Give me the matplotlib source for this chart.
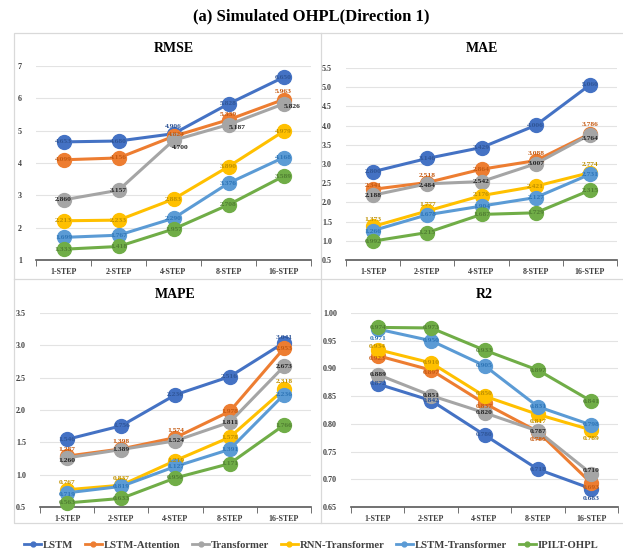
import matplotlib
matplotlib.use("Agg")
import matplotlib.pyplot as plt
from matplotlib.lines import Line2D
from matplotlib.patches import Rectangle

W, H = 623, 554
plt.rcParams['font.family'] = ['Liberation Serif', 'DejaVu Serif']

steps = ["1-STEP", "2-STEP", "4-STEP", "8-STEP", "16-STEP"]
models = ["LSTM", "LSTM-Attention", "Transformer", "RNN-Transformer", "LSTM-Transformer", "IPILT-OHPL"]
colors = ["#4472C4", "#ED7D31", "#A5A5A5", "#FFC000", "#5B9BD5", "#70AD47"]
label_colors = ["#2F5597", "#C55A11", "#262626", "#BF9000", "#2E75B6", "#507E32"]

rmse_lstm = [4.653, 4.680, 4.906, 5.828, 6.650]
rmse_att = [4.099, 4.156, 4.824, 5.339, 5.963]
rmse_trans = [2.860, 3.157, 4.700, 5.187, 5.826]
rmse_rnn = [2.213, 2.233, 2.883, 3.890, 4.979]
rmse_lstmt = [1.699, 1.767, 2.290, 3.376, 4.168]
rmse_ipilt = [1.333, 1.418, 1.957, 2.708, 3.589]

mae_lstm = [2.800, 3.146, 3.429, 4.006, 5.060]
mae_att = [2.341, 2.518, 2.864, 3.088, 3.786]
mae_trans = [2.188, 2.484, 2.542, 3.007, 3.764]
mae_rnn = [1.373, 1.777, 2.176, 2.421, 2.774]
mae_lstmt = [1.266, 1.678, 1.904, 2.127, 2.731]
mae_ipilt = [0.992, 1.215, 1.687, 1.729, 2.315]

mape_lstm = [1.546, 1.756, 2.236, 2.516, 3.041]
mape_att = [1.287, 1.398, 1.574, 1.978, 2.953]
mape_trans = [1.260, 1.389, 1.524, 1.811, 2.673]
mape_rnn = [0.767, 0.837, 1.219, 1.578, 2.318]
mape_lstmt = [0.719, 0.819, 1.127, 1.391, 2.236]
mape_ipilt = [0.563, 0.633, 0.950, 1.171, 1.766]

r2_lstm = [0.872, 0.842, 0.780, 0.718, 0.683]
r2_att = [0.923, 0.897, 0.837, 0.786, 0.693]
r2_trans = [0.889, 0.851, 0.820, 0.787, 0.710]
r2_rnn = [0.934, 0.910, 0.850, 0.817, 0.789]
r2_lstmt = [0.971, 0.950, 0.905, 0.831, 0.798]
r2_ipilt = [0.974, 0.973, 0.933, 0.897, 0.841]

# label offsets in points: (panel, series index, step index) -> (dx, dy)
label_offsets = {
    ("RMSE", 0, 2): (0, 5), ("RMSE", 1, 2): (2, 1), ("RMSE", 2, 2): (5, -5),
    ("RMSE", 1, 3): (0, 4), ("RMSE", 2, 3): (6, -2),
    ("RMSE", 1, 4): (0, 6), ("RMSE", 2, 4): (6, -2),
    ("MAE", 1, 0): (0, 3), ("MAE", 1, 1): (0, 5), ("MAE", 1, 3): (0, 5), ("MAE", 1, 4): (0, 7),
    ("MAE", 2, 1): (0, -1), ("MAE", 3, 0): (0, 5), ("MAE", 3, 1): (0, 5), ("MAE", 3, 4): (0, 6),
    ("MAE", 3, 2): (0, 1), ("MAE", 4, 0): (0, -1), ("MAE", 2, 4): (0, -3),
    ("MAPE", 0, 4): (0, 4), ("MAPE", 1, 0): (0, 5), ("MAPE", 1, 1): (0, 5), ("MAPE", 1, 2): (0, 5),
    ("MAPE", 2, 0): (0, -2), ("MAPE", 3, 0): (0, 5), ("MAPE", 3, 1): (0, 5), ("MAPE", 3, 4): (0, 6),
    ("MAPE", 4, 0): (0, -1),
    ("R2", 4, 0): (0, -7), ("R2", 1, 0): (0, -2), ("R2", 3, 0): (0, 2), ("R2", 1, 1): (0, -2),
    ("R2", 1, 2): (0, -2), ("R2", 3, 2): (0, 2), ("R2", 1, 3): (0, -6), ("R2", 3, 3): (0, -5),
    ("R2", 3, 4): (0, -6), ("R2", 1, 4): (0, -3), ("R2", 0, 4): (0, -7), ("R2", 2, 4): (0, 2),
}

panels = [
    dict(title="RMSE", data=[rmse_lstm, rmse_att, rmse_trans, rmse_rnn, rmse_lstmt, rmse_ipilt],
         px=(36, 311, 66, 260), ylim=(1, 7), yticks=[1, 2, 3, 4, 5, 6, 7], fmt="{:.0f}", ty=48),
    dict(title="MAE", data=[mae_lstm, mae_att, mae_trans, mae_rnn, mae_lstmt, mae_ipilt],
         px=(346, 617, 68, 260), ylim=(0.5, 5.5), yticks=[0.5 + 0.5 * i for i in range(11)], fmt="{:.1f}", ty=49),
    dict(title="MAPE", data=[mape_lstm, mape_att, mape_trans, mape_rnn, mape_lstmt, mape_ipilt],
         px=(40, 311, 313, 507), ylim=(0.5, 3.5), yticks=[0.5 + 0.5 * i for i in range(7)], fmt="{:.1f}", ty=295),
    dict(title="R2", data=[r2_lstm, r2_att, r2_trans, r2_rnn, r2_lstmt, r2_ipilt],
         px=(351, 618, 313, 507), ylim=(0.65, 1.0), yticks=[0.65 + 0.05 * i for i in range(8)], fmt="{:.2f}", ty=295),
]

fig = plt.figure(figsize=(W / 100, H / 100), dpi=100)

# panel frames
frame_kw = dict(transform=fig.transFigure, fill=False, edgecolor="#D9D9D9", linewidth=0.9)
fig.patches.append(Rectangle((14 / W, 1 - 523 / H), (640 - 14) / W, (523 - 33) / H, **frame_kw))
fig.add_artist(Line2D([321 / W, 321 / W], [1 - 523 / H, 1 - 33 / H], color="#D9D9D9", lw=0.9))
fig.add_artist(Line2D([14 / W, 1], [1 - 279 / H, 1 - 279 / H], color="#D9D9D9", lw=0.9))

fig.text(311 / W, 1 - 16 / H, "(a) Simulated OHPL(Direction 1)", ha="center", va="center",
         fontsize=12, fontweight="bold", color="#000000")

x = list(range(len(steps)))
for p in panels:
    x0, x1, yt, yb = p["px"]
    ax = fig.add_axes([x0 / W, 1 - yb / H, (x1 - x0) / W, (yb - yt) / H])
    ax.set_facecolor("none")
    for i, (vals, c, lc) in enumerate(zip(p["data"], colors, label_colors)):
        ax.plot(x, vals, color=c, lw=2.2, marker="o", markersize=10, zorder=3 + i * 0.1,
                markeredgecolor=c, clip_on=False)
        for xi, v in zip(x, vals):
            dx, dy = label_offsets.get((p["title"], i, xi), (0, 0))
            ax.annotate(f"{v:.3f}", (xi, v), xytext=(dx, dy), textcoords="offset points",
                        ha="center", va="center", fontsize=5.4, color=lc,
                        zorder=10, fontweight="bold", annotation_clip=False)
    ax.set_xlim(-0.5, 4.5)
    ax.set_ylim(*p["ylim"])
    ax.set_yticks(p["yticks"])
    ax.set_yticklabels([p["fmt"].format(t) for t in p["yticks"]], fontsize=5.8, fontweight="bold", color="#404040")
    ax.set_xticks(x)
    ax.set_xticklabels(steps, fontsize=5.8, fontweight="bold", color="#404040")
    ax.set_xticks([-0.5, 0.5, 1.5, 2.5, 3.5, 4.5], minor=True)
    ax.tick_params(axis="x", which="major", length=0, pad=6)
    ax.tick_params(axis="x", which="minor", length=4, color="#595959", direction="out")
    ax.tick_params(axis="y", length=0, pad=10)
    ax.grid(axis="y", color="#E3E3E3", lw=0.8)
    ax.set_axisbelow(True)
    for s in ["top", "right", "left"]:
        ax.spines[s].set_visible(False)
    ax.spines["bottom"].set_color("#595959")
    ax.spines["bottom"].set_linewidth(1.2)
    ax.spines["bottom"].set_zorder(2)
    fig.text((x0 + x1) / 2 / W, 1 - p["ty"] / H, p["title"], ha="center", va="center",
             fontsize=10, fontweight="bold", color="#000000")

handles = [Line2D([0], [0], color=c, lw=2, marker="o", markersize=3.5) for c in colors]
fig.legend(handles, models, loc="center", bbox_to_anchor=(311 / W, 1 - 545 / H), ncol=6, frameon=False,
           prop=dict(size=7.7, weight="bold"), handlelength=1.6, handletextpad=0.15, columnspacing=1.1,
           labelcolor="#404040")

fig.savefig("out.png", dpi=100, facecolor="white")
